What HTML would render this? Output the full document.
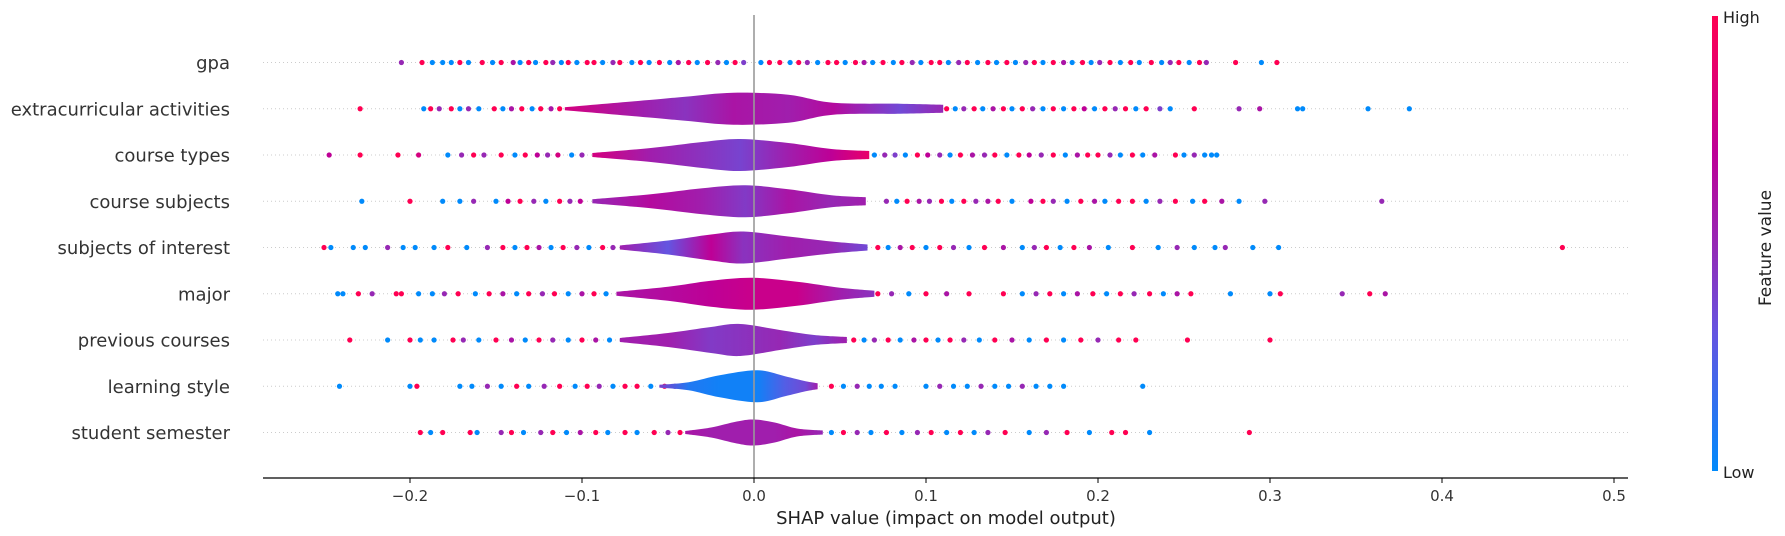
<!DOCTYPE html>
<html><head><meta charset="utf-8">
<style>
html,body{margin:0;padding:0;background:#fff;}
svg{display:block;}
text{font-family:"DejaVu Sans","Liberation Sans",sans-serif;}
</style></head>
<body>
<svg id="chart" width="1785" height="536" viewBox="0 0 1785 536">
<defs id="defs"></defs>
<g id="grid"></g><g id="dots"></g><g id="violins"></g><g id="axes"></g>
</svg>
<script>
const features = ["gpa","extracurricular activities","course types","course subjects","subjects of interest","major","previous courses","learning style","student semester"];
const xTicks = [-0.2,-0.1,0.0,0.1,0.2,0.3,0.4,0.5];
const xTickLabels = ["\u22120.2","\u22120.1","0.0","0.1","0.2","0.3","0.4","0.5"];

// dot SHAP values and feature values (0 low .. 1 high) per row
const dotsX = [
 [-0.205,-0.193,-0.187,-0.181,-0.176,-0.171,-0.166,-0.158,-0.152,-0.147,-0.14,-0.136,-0.131,-0.127,-0.121,-0.117,-0.112,-0.108,-0.103,-0.097,-0.093,-0.088,-0.082,-0.078,-0.071,-0.066,-0.061,-0.055,-0.049,-0.044,-0.038,-0.033,-0.027,-0.021,-0.016,-0.011,-0.006,0.004,0.009,0.015,0.021,0.026,0.031,0.037,0.043,0.048,0.053,0.059,0.064,0.069,0.075,0.081,0.086,0.092,0.097,0.103,0.108,0.113,0.119,0.124,0.13,0.136,0.141,0.147,0.152,0.158,0.163,0.168,0.174,0.18,0.185,0.191,0.196,0.201,0.207,0.213,0.219,0.224,0.231,0.237,0.242,0.247,0.253,0.259,0.263,0.28,0.295,0.304],
 [-0.229,-0.192,-0.188,-0.183,-0.176,-0.171,-0.166,-0.16,-0.151,-0.146,-0.141,-0.135,-0.129,-0.124,-0.118,-0.113,0.112,0.117,0.122,0.128,0.133,0.139,0.145,0.15,0.156,0.162,0.168,0.174,0.18,0.186,0.192,0.198,0.204,0.21,0.216,0.222,0.228,0.236,0.242,0.256,0.282,0.294,0.316,0.319,0.357,0.381],
 [-0.247,-0.229,-0.207,-0.195,-0.178,-0.17,-0.163,-0.157,-0.147,-0.139,-0.133,-0.126,-0.12,-0.114,-0.106,-0.1,0.07,0.076,0.082,0.088,0.095,0.101,0.108,0.114,0.12,0.127,0.134,0.14,0.147,0.154,0.16,0.167,0.174,0.181,0.188,0.194,0.2,0.207,0.213,0.22,0.226,0.233,0.245,0.25,0.256,0.262,0.266,0.269],
 [-0.228,-0.2,-0.181,-0.171,-0.163,-0.15,-0.143,-0.136,-0.128,-0.121,-0.113,-0.107,-0.101,0.077,0.083,0.089,0.096,0.102,0.109,0.115,0.122,0.129,0.136,0.142,0.15,0.161,0.168,0.174,0.182,0.19,0.198,0.204,0.212,0.22,0.228,0.236,0.245,0.255,0.262,0.272,0.282,0.297,0.365],
 [-0.25,-0.246,-0.233,-0.226,-0.213,-0.204,-0.197,-0.186,-0.178,-0.167,-0.155,-0.146,-0.139,-0.132,-0.125,-0.118,-0.111,-0.103,-0.096,-0.088,-0.082,0.072,0.078,0.085,0.092,0.1,0.108,0.116,0.125,0.134,0.145,0.156,0.163,0.17,0.178,0.186,0.195,0.206,0.22,0.235,0.246,0.256,0.268,0.274,0.29,0.305,0.47],
 [-0.242,-0.239,-0.23,-0.222,-0.208,-0.205,-0.195,-0.187,-0.18,-0.172,-0.162,-0.154,-0.146,-0.138,-0.131,-0.123,-0.116,-0.108,-0.1,-0.093,-0.086,0.072,0.08,0.09,0.1,0.112,0.125,0.145,0.156,0.164,0.172,0.18,0.188,0.197,0.205,0.213,0.221,0.23,0.238,0.246,0.254,0.277,0.3,0.306,0.342,0.358,0.367],
 [-0.235,-0.213,-0.2,-0.194,-0.186,-0.175,-0.169,-0.16,-0.15,-0.141,-0.133,-0.125,-0.117,-0.108,-0.1,-0.092,-0.084,0.058,0.064,0.07,0.078,0.085,0.093,0.1,0.107,0.114,0.122,0.131,0.14,0.15,0.16,0.17,0.18,0.19,0.2,0.212,0.222,0.252,0.3],
 [-0.241,-0.2,-0.196,-0.171,-0.164,-0.155,-0.147,-0.138,-0.131,-0.122,-0.113,-0.104,-0.097,-0.09,-0.082,-0.075,-0.068,-0.06,-0.052,-0.046,0.045,0.052,0.06,0.067,0.074,0.082,0.1,0.108,0.116,0.124,0.132,0.14,0.148,0.156,0.164,0.172,0.18,0.226],
 [-0.194,-0.188,-0.181,-0.165,-0.161,-0.147,-0.141,-0.134,-0.124,-0.117,-0.109,-0.101,-0.092,-0.085,-0.075,-0.068,-0.058,-0.05,-0.043,0.045,0.052,0.06,0.068,0.077,0.086,0.095,0.103,0.112,0.12,0.128,0.136,0.146,0.16,0.17,0.182,0.195,0.208,0.216,0.23,0.288]
];
const dotsC = [
 [0.5,1,0,0,0,1,0,1,0,1,0.6,0,1,0,1,0.5,0,1,0,1,1,0,0.5,1,0,1,0,1,0,0.6,1,0,1,0.5,0,1,0.4,0,1,1,0,1,0.5,0,1,1,0,1,0.6,0,1,0,1,0.5,0,1,1,0,0.5,1,0,1,0,1,0,0.5,1,0,1,0.6,0,1,0,0.5,1,0,1,0,1,0,0.5,1,0,1,0.5,1,0,1],
 [1,0,1,0.5,1,0,0.5,0,1,0,0.6,1,0,1,0.6,1,1,0,0.5,1,0,0.6,1,0,1,0.5,0,1,0,1,0.7,0,1,0.5,1,0,1,0.4,0,1,0.5,0.6,0,0,0,0],
 [0.7,1,1,0.8,0,0.5,1,0.5,1,0,1,0.7,0.5,0.8,0,0.5,0,0.5,0.4,0,1,0.7,0.5,0,1,0.6,0.5,1,0,1,0.7,0.5,1,0,0.6,1,1,0.5,0,1,0,0.6,1,0,0.5,0,0,0],
 [0,1,0,0,0.5,0,0.7,1,0.5,0,1,0.5,0.7,0.5,0,1,0.6,0.5,1,0,1,0.5,0.6,1,0,0.7,1,0.5,0,1,0.6,0,1,1,0,0.5,1,0,1,0.6,0,0.5,0.5],
 [1,0,0,0,0.5,0,0,0,1,0,0.5,1,0,1,0.6,0,1,0.5,0,1,0.5,1,0,0.6,1,0,1,0.5,0,1,0.6,0,0.5,1,0,1,0.6,0,1,0,0.5,0,0,0.5,0,0,1],
 [0,0,1,0.5,1,1,0,0,0.5,1,0,1,0.6,0,1,0.5,1,0,0.6,1,0,1,0.5,0,1,0.6,1,1,0,0.5,1,0,0.6,1,0,1,0.5,1,0,0.6,1,0,0,1,0.5,1,0.6],
 [1,0,1,0,0,1,0.5,0,1,0.6,0,1,0.5,0,1,0.6,0,1,0,0.5,1,0,0.6,1,0,1,0.5,0,1,0.6,0,1,0,1,0.5,1,1,1,1],
 [0,0,1,0,0,0.5,0,1,0,0.5,1,0,1,0.5,0,1,1,0,1,0.5,1,0,0.5,0,0,0,0,0.5,0,0,0.5,0,0,0.5,0,0,0,0],
 [1,0,1,1,0,0.5,1,0,0.5,1,0,0.6,1,0,1,0,1,0.5,1,0,1,0.5,0,1,0,0.5,1,0,1,0,0.5,1,0,0.5,1,0,1,1,0,1]
];
// violin knots: SHAP positions, half-heights (px) and feature-value colours
const vX = [
 [-0.14,-0.05,0,0.08,0.22],
 [-0.11,-0.066,-0.04,-0.012,0.02,0.046,0.085,0.11],
 [-0.094,-0.06,-0.03,-0.008,0.02,0.045,0.067],
 [-0.094,-0.06,-0.03,-0.005,0.02,0.045,0.065],
 [-0.078,-0.05,-0.025,-0.006,0.02,0.045,0.066],
 [-0.08,-0.05,-0.025,-0.001,0.025,0.05,0.07],
 [-0.078,-0.05,-0.025,-0.008,0.015,0.035,0.054],
 [-0.055,-0.038,-0.02,0.002,0.018,0.03,0.037],
 [-0.04,-0.025,-0.01,0,0.012,0.025,0.04]
];
const vH = [
 [0.5,1,1,1,0.5],
 [1.5,8,12,16,14,6,5,4],
 [2,7,13,16,12,6,4],
 [2,7,13,16,12,6,4],
 [2,7,13,16,11,6,3],
 [2,7,13,16,12,6,3],
 [2,7,13,16,10,5,3],
 [1.5,4,11,16,10,5,3],
 [1.5,5,11,13,10,4,2]
];
const vC = [
 [0.5,0.5,0.5,0.5,0.5],
 [0.8,0.55,0.45,0.6,0.55,0.65,0.35,0.5],
 [0.8,0.55,0.45,0.38,0.55,0.7,0.9],
 [0.5,0.65,0.55,0.42,0.6,0.5,0.55],
 [0.55,0.3,0.7,0.45,0.55,0.5,0.35],
 [0.6,0.65,0.7,0.75,0.75,0.55,0.45],
 [0.55,0.55,0.42,0.45,0.5,0.4,0.55],
 [0.4,0.1,0.05,0.05,0.25,0.35,0.55],
 [0.6,0.55,0.55,0.55,0.55,0.6,0.5]
];

const NS = "http://www.w3.org/2000/svg";
const X0 = 754, PX = 1720, Y0 = 62.5, DY = 46.25, AX_L = 263, AX_R = 1628, AX_Y = 478;
const xs = v => X0 + v * PX;
const ys = i => Y0 + i * DY;
const stops = [[0,[0,138,251]],[0.3,[100,85,225]],[0.5,[150,40,180]],[0.7,[190,0,150]],[1,[255,0,82]]];
function cmap(t){
  for(let k=1;k<stops.length;k++){ if(t<=stops[k][0]){ const a=stops[k-1],b=stops[k],f=(t-a[0])/(b[0]-a[0]);
    return "rgb("+a[1].map((c,j)=>Math.round(c+(b[1][j]-c)*f)).join(",")+")"; } }
  return "rgb(255,0,82)";
}
function mk(tag, attrs, parent){ const e=document.createElementNS(NS,tag); for(const k in attrs) e.setAttribute(k,attrs[k]); parent.appendChild(e); return e; }
function smooth(P,y){
  let d="";
  for(let k=0;k<P.length-1;k++){
    const p0=P[Math.max(k-1,0)],p1=P[k],p2=P[k+1],p3=P[Math.min(k+2,P.length-1)];
    const c1=[p1[0]+(p2[0]-p0[0])/6,p1[1]+(p2[1]-p0[1])/6], c2=[p2[0]-(p3[0]-p1[0])/6,p2[1]-(p3[1]-p1[1])/6];
    d+=" C"+c1[0]+","+(y+c1[1])+" "+c2[0]+","+(y+c2[1])+" "+p2[0]+","+(y+p2[1]);
  }
  return d;
}

const grid=document.getElementById("grid"), dots=document.getElementById("dots"), vio=document.getElementById("violins"), axes=document.getElementById("axes"), defs=document.getElementById("defs");

features.forEach((f,i)=>{
  const y=ys(i);
  const gl=mk("line",{x1:AX_L,x2:AX_R,y1:y,y2:y,stroke:"#cccccc","stroke-width":1,"stroke-dasharray":"1,3"},grid);
  
  
  const lb=mk("text",{x:230,y:y+6.5,"text-anchor":"end","font-size":18,fill:"#333"},axes);
  lb.textContent=f;
  
  
  dotsX[i].forEach((v,j)=>{
    const c=mk("circle",{cx:xs(v),cy:y,r:2.6,fill:cmap(dotsC[i][j])},dots);
    
    
  });
  if(i>0){
    const kx=vX[i], kh=vH[i], kc=vC[i];
    const gid="vg"+i;
    const g=mk("linearGradient",{id:gid,gradientUnits:"userSpaceOnUse",x1:xs(kx[0]),x2:xs(kx[kx.length-1]),y1:0,y2:0},defs);
    const span=kx[kx.length-1]-kx[0];
    kx.forEach((v,j)=>mk("stop",{offset:(v-kx[0])/span,"stop-color":cmap(kc[j])},g));
    const pts=kx.map((v,j)=>[xs(v),kh[j]]);
    const start="M"+pts[0][0]+","+y+" L"+pts[0][0]+","+(y-pts[0][1]);
    const up=smooth(pts.map(p=>[p[0],-p[1]]),y);
    const last=pts[pts.length-1];
    const mid=" L"+last[0]+","+(y+last[1]);
    const down=smooth(pts.slice().reverse().map(p=>[p[0],p[1]]),y);
    const p=mk("path",{d:start+up+mid+down+"Z",fill:"url(#"+gid+")"},vio);
    
    
  }
});

const zl=mk("line",{x1:X0,x2:X0,y1:15,y2:AX_Y,stroke:"#999","stroke-width":1.6},axes);


const al=mk("line",{x1:AX_L,x2:AX_R,y1:AX_Y,y2:AX_Y,stroke:"#000","stroke-width":1.2},axes);


xTicks.forEach((v,j)=>{
  const t=mk("line",{x1:xs(v),x2:xs(v),y1:AX_Y,y2:AX_Y+5,stroke:"#000","stroke-width":1},axes);
  
  
  const tl=mk("text",{x:xs(v),y:AX_Y+23,"text-anchor":"middle","font-size":15,fill:"#333"},axes);
  tl.textContent=xTickLabels[j];
  
  
});
const xt=mk("text",{x:946,y:524,"text-anchor":"middle","font-size":18,fill:"#222"},axes);
xt.textContent="SHAP value (impact on model output)";



const cg=mk("linearGradient",{id:"cbar",x1:0,y1:1,x2:0,y2:0},defs);
stops.forEach(s=>mk("stop",{offset:s[0],"stop-color":"rgb("+s[1].join(",")+")"},cg));
const cb=mk("rect",{x:1712,y:16,width:6,height:455,fill:"url(#cbar)"},axes);


const hi=mk("text",{x:1723,y:23,"font-size":16,fill:"#222"},axes); hi.textContent="High";


const lo=mk("text",{x:1723,y:478,"font-size":16,fill:"#222"},axes); lo.textContent="Low";


const fv=mk("text",{x:1771,y:248,"font-size":17,fill:"#222","text-anchor":"middle",transform:"rotate(-90 1771 248)"},axes); fv.textContent="Feature value";


</script>
</body></html>
